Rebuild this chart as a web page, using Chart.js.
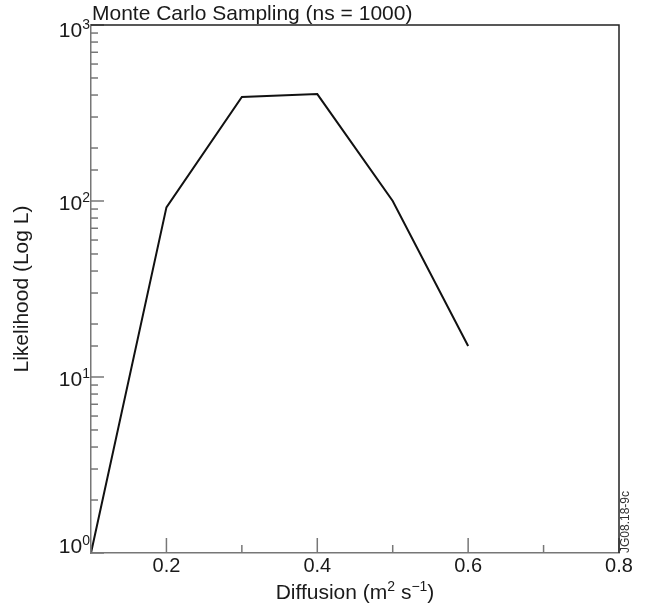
<!DOCTYPE html>
<html>
<head>
<meta charset="utf-8">
<title>Monte Carlo Sampling</title>
<script src="https://cdn.jsdelivr.net/npm/chart.js@4"></script>
<style>
  html, body { margin: 0; padding: 0; background: #fff; }
  #wrap { width: 646px; height: 612px; }
</style>
</head>
<body>
<div id="wrap"><canvas id="chart" width="646" height="612"></canvas></div>
<script>
// data
const diffusion = [0.1, 0.2, 0.3, 0.4, 0.5, 0.6];
const likelihood = [1, 92, 390, 405, 100, 15];
const xTickLabels = ['0.2', '0.4', '0.6', '0.8'];
const yDecades = [1, 10, 100, 1000];

const FONT = '"Liberation Sans", Arial, Helvetica, sans-serif';
const AXIS_GREY = '#777';
const TEXT = '#1a1a1a';

// draw "base" followed by raised pieces; parts = [[text, isSup], ...]
function partsWidth(ctx, parts, size, supSize){
  let w = 0;
  parts.forEach(([t, s]) => { ctx.font = (s ? supSize : size) + 'px ' + FONT; w += ctx.measureText(t).width; });
  return w;
}
function drawParts(ctx, parts, x, y, size, supSize, rise){
  ctx.textAlign = 'left';
  ctx.textBaseline = 'alphabetic';
  parts.forEach(([t, s]) => {
    ctx.font = (s ? supSize : size) + 'px ' + FONT;
    ctx.fillText(t, x, s ? y - rise : y);
    x += ctx.measureText(t).width;
  });
}

// inward tick marks, frame, decade labels, titles
const decor = {
  id: 'decor',
  afterDraw(chart){
    const { ctx, chartArea: a, scales: { x, y } } = chart;
    ctx.save();
    ctx.strokeStyle = AXIS_GREY;
    ctx.lineWidth = 1.5;
    x.ticks.forEach(t => {
      const px = x.getPixelForValue(t.value);
      const major = xTickLabels.includes(t.value.toFixed(1));
      const len = major ? 15 : 8;
      ctx.beginPath(); ctx.moveTo(px, a.bottom); ctx.lineTo(px, a.bottom - len); ctx.stroke();
    });
    y.ticks.forEach(t => {
      const py = y.getPixelForValue(t.value);
      const major = yDecades.includes(t.value);
      const len = major ? 13 : 7;
      ctx.beginPath(); ctx.moveTo(a.left, py); ctx.lineTo(a.left + len, py); ctx.stroke();
    });
    // top + right frame
    ctx.strokeStyle = '#222';
    ctx.beginPath();
    ctx.moveTo(a.left, a.top); ctx.lineTo(a.right, a.top); ctx.lineTo(a.right, a.bottom);
    ctx.stroke();

    ctx.fillStyle = TEXT;
    // decade labels 10^n, kept inside the axis span
    yDecades.forEach(v => {
      const py = y.getPixelForValue(v);
      const base = Math.min(Math.max(py + 9, a.top + 12), a.bottom);
      const parts = [['10', false], [String(Math.round(Math.log10(v))), true]];
      const w = partsWidth(ctx, parts, 21, 14);
      drawParts(ctx, parts, a.left - 1 - w, base, 21, 14, 8);
    });

    // x axis title with superscripts
    const xt = [['Diffusion (m', false], ['2', true], [' s', false], ['\u22121', true], [')', false]];
    const xw = partsWidth(ctx, xt, 21, 14);
    drawParts(ctx, xt, (a.left + a.right) / 2 - xw / 2, 599, 21, 14, 8);

    // title
    ctx.font = '21px ' + FONT;
    ctx.textAlign = 'left';
    ctx.textBaseline = 'alphabetic';
    ctx.fillText('Monte Carlo Sampling (ns = 1000)', a.left + 1, 20);

    // figure id on the right
    ctx.font = '12px ' + FONT;
    ctx.fillStyle = '#333';
    ctx.translate(a.right + 7, a.bottom);
    ctx.rotate(-Math.PI / 2);
    ctx.textAlign = 'left';
    ctx.textBaseline = 'middle';
    ctx.fillText('JG08.18-9c', 0, 0);
    ctx.restore();
  }
};

new Chart(document.getElementById('chart'), {
  type: 'line',
  data: {
    datasets: [{
      data: diffusion.map((d, i) => ({ x: d, y: likelihood[i] })),
      borderColor: '#111',
      borderWidth: 2,
      pointRadius: 0,
      tension: 0,
      fill: false
    }]
  },
  options: {
    responsive: false,
    animation: false,
    devicePixelRatio: 1,
    layout: { padding: { top: 25, right: 27, left: 0, bottom: 0 } },
    plugins: { legend: { display: false }, title: { display: false }, tooltip: { enabled: false } },
    scales: {
      x: {
        type: 'linear',
        min: 0.1,
        max: 0.8,
        afterFit(s){ s.height = 59; },
        grid: { display: false, drawTicks: false },
        border: { display: true, color: AXIS_GREY, width: 1.5 },
        ticks: {
          stepSize: 0.1,
          autoSkip: false,
          maxRotation: 0,
          padding: 1,
          color: TEXT,
          font: { family: FONT, size: 20 },
          callback(v){ const s = Number(v).toFixed(1); return xTickLabels.includes(s) ? s : ''; }
        },
        title: { display: false }
      },
      y: {
        type: 'logarithmic',
        min: 1,
        max: 1000,
        afterFit(s){ s.width = 91; },
        grid: { display: false, drawTicks: false },
        border: { display: true, color: AXIS_GREY, width: 1.5 },
        ticks: { autoSkip: false, callback(){ return ''; } },
        title: {
          display: true,
          text: 'Likelihood (Log L)',
          color: TEXT,
          font: { family: FONT, size: 21 },
          padding: { top: 10, bottom: 0 }
        }
      }
    }
  },
  plugins: [decor]
});
</script>
</body>
</html>
